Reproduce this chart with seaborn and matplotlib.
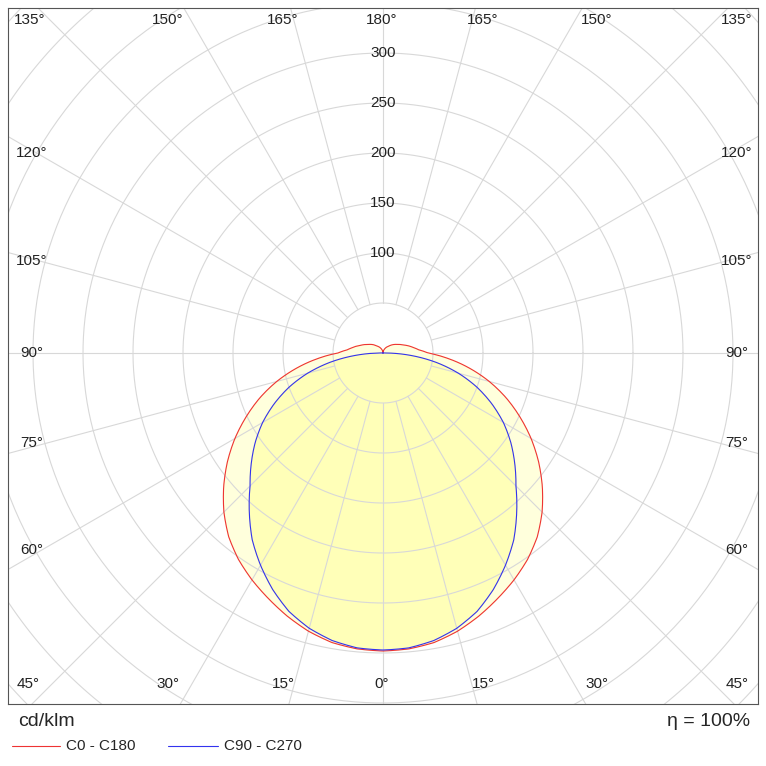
import numpy as np
import pandas as pd
import matplotlib
matplotlib.use("Agg")
import matplotlib.pyplot as plt
import seaborn as sns

# luminous intensity in cd/klm, gamma angle 0..180 (symmetric planes)
angles_c0 = [0, 5, 10, 15, 20, 25, 30, 35, 40, 45, 50, 55, 60, 65, 70, 75, 80, 85,
             90, 95, 100, 105, 110, 120, 130, 140, 160, 180]
cd_c0 = [298, 297, 294, 288, 280, 271, 262, 252, 240, 225, 208, 190, 171, 151, 131, 110, 88, 66,
         45, 36, 31, 27, 23, 17, 13, 9, 4, 0]
angles_c90 = [0, 5, 10, 15, 20, 25, 30, 35, 40, 45, 50, 55, 60, 65, 70, 75, 80, 85, 90, 95, 180]
cd_c90 = [297, 296, 292, 285, 275, 261, 245, 228, 208, 188, 172, 156, 139, 120, 100, 78, 54, 28, 3, 0, 0]
ring_vals = [100, 150, 200, 250, 300]

def curve(ang, val):
    a = np.radians(np.array(ang, float))
    v = np.array(val, float)
    a = np.concatenate([-a[::-1], a[1:]])
    v = np.concatenate([v[::-1], v[1:]])
    # smooth between samples
    fine = np.linspace(a[0], a[-1], 721)
    vf = np.interp(fine, a, v)
    return pd.DataFrame({"x": vf * np.sin(fine), "y": -vf * np.cos(fine)})

sns.set_style("white")
plt.rcParams["font.family"] = ["Liberation Sans", "DejaVu Sans"]
fig = plt.figure(figsize=(7.66, 7.66), dpi=100)
ax = fig.add_axes([8 / 766, 62 / 766, 750 / 766, 696 / 766])
ax.set_xlim(-375, 375)
ax.set_ylim(-351, 345)
for s in ax.spines.values():
    s.set_color("#555555")
    s.set_linewidth(0.8)
ax.set_xticks([])
ax.set_yticks([])

grid = "#d8d8d8"
t = np.linspace(0, 2 * np.pi, 400)
for r in range(50, 551, 50):
    ax.plot(r * np.cos(t), r * np.sin(t), color=grid, lw=0.8, zorder=2.5)
for d in range(0, 360, 15):
    a = np.radians(d)
    ax.plot([50 * np.sin(a), 700 * np.sin(a)], [-50 * np.cos(a), -700 * np.cos(a)],
            color=grid, lw=0.8, zorder=2.5)

c0 = curve(angles_c0, cd_c0)
c90 = curve(angles_c90, cd_c90)
ax.fill(c0.x, c0.y, color="#ffffdc", zorder=2)
ax.fill(c90.x, c90.y, color="#ffffb8", zorder=2)
sns.lineplot(data=c0, x="x", y="y", sort=False, estimator=None, color="#ee3333", lw=0.8, ax=ax, zorder=3)
sns.lineplot(data=c90, x="x", y="y", sort=False, estimator=None, color="#3333ee", lw=0.8, ax=ax, zorder=3)
ax.set_xlabel("")
ax.set_ylabel("")

fs = 11
for v in ring_vals:
    ax.text(0, v, str(v), ha="center", va="center", fontsize=fs, color="#222222", zorder=4)

def lab(px, py, s):
    ax.text(px - 383, 353 - py, s, ha="center", va="center", fontsize=fs, color="#222222", zorder=4)

for px, s in [(28, "45°"), (168, "30°"), (283, "15°"), (382, "0°"), (483, "15°"), (597, "30°"), (737, "45°")]:
    lab(px, 684, s)
for px, s in [(30, "135°"), (168, "150°"), (283, "165°"), (382, "180°"), (483, "165°"), (597, "150°"), (737, "135°")]:
    lab(px, 20, s)
for py, s in [(153, "120°"), (261, "105°"), (353, "90°"), (443, "75°"), (550, "60°")]:
    lab(32, py, s)
    lab(737, py, s)

fig.text(18 / 766, 1 - 722 / 766, "cd/klm", fontsize=14, va="center", ha="left")
fig.text(750 / 766, 1 - 722 / 766, "η = 100%", fontsize=14, va="center", ha="right")
fig.lines.append(plt.Line2D([12 / 766, 60 / 766], [1 - 746 / 766] * 2, color="#ee3333", lw=0.8, transform=fig.transFigure))
fig.text(66 / 766, 1 - 746 / 766, "C0 - C180", fontsize=11, va="center")
fig.lines.append(plt.Line2D([168 / 766, 218 / 766], [1 - 746 / 766] * 2, color="#3333ee", lw=0.8, transform=fig.transFigure))
fig.text(224 / 766, 1 - 746 / 766, "C90 - C270", fontsize=11, va="center")

fig.savefig("out.png", dpi=100)
